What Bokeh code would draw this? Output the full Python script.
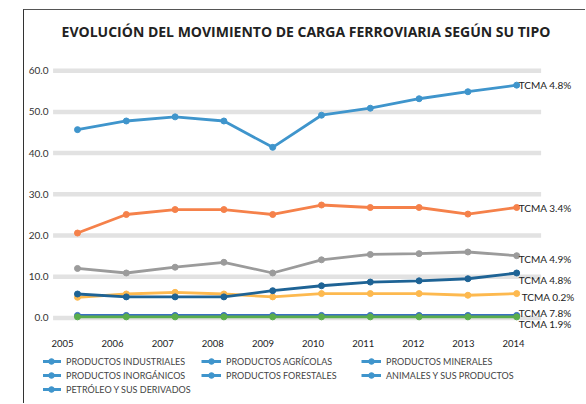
from bokeh.plotting import figure
from bokeh.layouts import column
from bokeh.models import (Range1d, LinearAxis, FixedTicker, NumeralTickFormatter,
                          Legend, LegendItem)
from bokeh.embed import file_html
from bokeh.resources import INLINE
from bokeh.core.properties import value

title_text = "EVOLUCIÓN DEL MOVIMIENTO DE CARGA FERROVIARIA SEGÚN SU TIPO"

years = [2005, 2006, 2007, 2008, 2009, 2010, 2011, 2012, 2013, 2014]
grid_values = [0, 10, 20, 30, 40, 50, 60]

industriales = [45.7, 47.8, 48.8, 47.8, 41.4, 49.2, 50.9, 53.2, 54.9, 56.5]
naranja = [20.6, 25.1, 26.3, 26.3, 25.1, 27.4, 26.8, 26.8, 25.2, 26.8]
gris = [12.0, 10.9, 12.3, 13.5, 10.9, 14.1, 15.4, 15.6, 16.0, 15.1]
amarillo = [5.0, 5.8, 6.2, 5.8, 5.1, 5.9, 5.9, 5.9, 5.5, 5.9]
azul_oscuro = [5.8, 5.1, 5.1, 5.1, 6.6, 7.8, 8.7, 9.0, 9.5, 10.9]
azul_bajo = [0.6, 0.6, 0.6, 0.6, 0.6, 0.6, 0.6, 0.6, 0.6, 0.6]
verde = [0.25, 0.25, 0.25, 0.25, 0.25, 0.25, 0.25, 0.25, 0.25, 0.25]

series = [industriales, naranja, gris, amarillo, azul_oscuro, azul_bajo, verde]
colors = ["#3f95cc", "#f5814a", "#9b9b9b", "#fdb94f", "#1e6395", "#3a70c0", "#5aad4c"]
tcma_labels = ["TCMA 4.8%", "TCMA 3.4%", "TCMA 4.9%", "TCMA 0.2%", "TCMA 4.8%", "TCMA 7.8%", "TCMA 1.9%"]
tcma_xoff = [2, 2, 2, 5, 2, 2, 2]
tcma_yoff = [0, 1, 3, 3, 7, -2, 7]

legend_names = ["PRODUCTOS INDUSTRIALES", "PRODUCTOS AGRÍCOLAS", "PRODUCTOS MINERALES",
                "PRODUCTOS INORGÁNICOS", "PRODUCTOS FORESTALES", "ANIMALES Y SUS PRODUCTOS",
                "PETRÓLEO Y SUS DERIVADOS"]
legend_color = "#3f95cc"

# layout (pixels)
W, H, H2 = 561, 339, 54
BORDER_L = 19            # frame starts 19 px into the plot
FRAME_TOP_GAP = 0
px_per_year = 48.8       # spacing of data points
first_pt_px = 34         # first point, px from frame left
lab_px = 50.11           # spacing of year labels
first_lab_px = 19        # first year label, px from frame left
px_per_unit = 4.145      # vertical scale
top_tick_px = 60.6       # 60.0 line, px from frame top
title_px = (262.5, 21)   # title centre, px from frame left / top

frame_w = W - BORDER_L
frame_h = H - 14
x0 = years[0] - first_pt_px / px_per_year
x1 = x0 + frame_w / px_per_year
y_end = grid_values[-1] + top_tick_px / px_per_unit
y_start = y_end - frame_h / px_per_unit
lx0 = years[0] - first_lab_px / lab_px

p = figure(width=W, height=H, output_backend="svg", toolbar_location=None, title=None,
           x_axis_type=None,
           x_range=Range1d(x0, x1), y_range=Range1d(y_start, y_end),
           min_border_left=BORDER_L, min_border_right=0, min_border_top=FRAME_TOP_GAP,
           min_border_bottom=14)
p.outline_line_color = None
p.background_fill_color = "white"
p.border_fill_color = "white"
p.ygrid.grid_line_color = None

yax = p.yaxis[0]
yax.ticker = FixedTicker(ticks=grid_values)
yax.formatter = NumeralTickFormatter(format="0.0")
yax.axis_line_color = None
yax.major_tick_line_color = None
yax.minor_tick_line_color = None
yax.major_label_standoff = -11
yax.major_label_text_font = "Lato"
yax.major_label_text_font_size = "10px"
yax.major_label_text_color = "#333333"

p.extra_x_ranges = {"lab": Range1d(lx0, lx0 + frame_w / lab_px)}
xax = LinearAxis(x_range_name="lab", ticker=FixedTicker(ticks=years),
                 formatter=NumeralTickFormatter(format="0"))
xax.axis_line_color = None
xax.major_tick_line_color = None
xax.minor_tick_line_color = None
xax.major_label_standoff = 0
xax.major_label_text_font = "Lato"
xax.major_label_text_font_size = "9.5px"
xax.major_label_text_color = "#222222"
p.add_layout(xax, "below")

# title
p.text(x=[x0 + title_px[0] / px_per_year], y=[y_end - title_px[1] / px_per_unit],
       text=[title_text], text_align="center", text_baseline="middle",
       text_font=value("Open Sans"), text_font_style="bold", text_font_size="14px",
       text_color="#222222")

# gridlines
p.segment(x0=[years[0] - 0.5] * len(grid_values), x1=[years[-1] + 0.5] * len(grid_values),
          y0=grid_values, y1=grid_values, line_color="#e2e2e2", line_width=4.5)

for vals, c in zip(series, colors):
    p.line(years, vals, line_color=c, line_width=2.8)
    p.scatter(years, vals, size=6, fill_color=c, line_color=c)

p.text(x=[years[-1]] * len(series), y=[s[-1] for s in series], text=tcma_labels,
       x_offset=tcma_xoff, y_offset=tcma_yoff, text_baseline="middle", text_align="left",
       text_font=value("Lato"), text_font_size="10px", text_color="#222222")

# legend figure (its dummy renderers hold data outside its 0..1 view)
p2 = figure(width=W, height=H2, output_backend="svg", toolbar_location=None, title=None,
            x_axis_type=None, y_axis_type=None,
            x_range=Range1d(0, 1), y_range=Range1d(0, 1),
            min_border_left=0, min_border_right=0, min_border_top=0, min_border_bottom=0)
p2.outline_line_color = None
p2.xgrid.visible = False
p2.ygrid.visible = False

items = []
for name, vals in zip(legend_names, series):
    r1 = p2.line(years, vals, line_color=legend_color, line_width=3)
    r2 = p2.scatter(years, vals, size=6, fill_color=legend_color, line_color=legend_color)
    items.append(LegendItem(label=name, renderers=[r1, r2]))

legend = Legend(items=items, ncols=3, orientation="horizontal", location=(-2, 7),
                padding=0, margin=0, spacing=0, glyph_width=20, glyph_height=14,
                label_height=14, label_width=135, label_standoff=5,
                border_line_color=None, background_fill_alpha=0,
                label_text_font="Lato", label_text_font_size="9px",
                label_text_color="#444444")
p2.add_layout(legend, "center")

layout = column(p, p2, spacing=0)
layout.margin = (9, 0, 0, 23)
layout.styles = {"border-left": "1px solid #333", "border-top": "1px solid #555"}

open("out.html", "w").write(file_html(layout, INLINE))
